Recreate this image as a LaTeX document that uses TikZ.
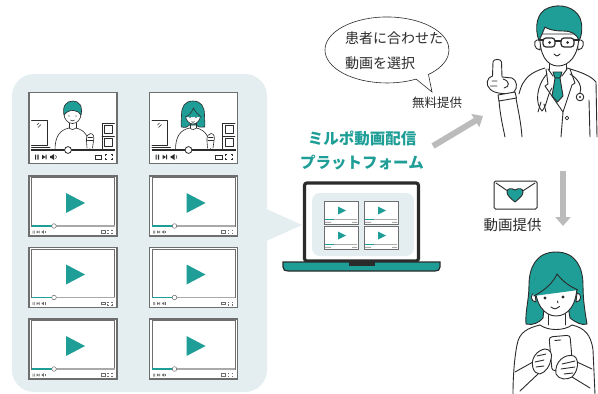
\documentclass[tikz,border=0pt]{standalone}
\usepackage{fontspec}
\newfontfamily\jp{Noto Sans CJK JP}
\usetikzlibrary{arrows.meta}

\definecolor{milteal}{HTML}{1E9E96}
\definecolor{panelbg}{HTML}{E4EEF1}
\definecolor{cardgray}{HTML}{6E6E6E}
\definecolor{bargray}{HTML}{A9A9A9}
\definecolor{arrowgray}{HTML}{BBBBBB}
\definecolor{inkgray}{HTML}{2B2B2B}

\tikzset{
  vcard/.style={draw=cardgray, line width=1.1pt, fill=white, inner sep=0pt},
  ink/.style={draw=inkgray, line width=0.9pt, line join=round, line cap=round},
  thin ink/.style={ink, line width=0.55pt},
  skin/.style={ink, fill=white},
  hair/.style={ink, fill=milteal},
  jplabel/.style={font=\jp, text=inkgray, inner sep=0pt},
  give/.style={draw=arrowgray, line width=6pt, -{Triangle[width=15pt,length=9pt]}},
}

% player buttons, drawn from the origin to the right
\newcommand{\leftctrls}{%
  \fill (0,-2.5) rectangle (1.2,2.5) (2.4,-2.5) rectangle (3.6,2.5);
  \fill (7,-2.3) -- (10.5,0) -- (7,2.3) -- cycle (10.7,-2.3) rectangle (11.7,2.3);
  \fill (15,-1.2) rectangle (16.5,1.2) (16.5,-1.2) -- (19,-3) -- (19,3) -- (16.5,1.2) -- cycle;
  \draw[line width=0.5pt] (20.5,-1.8) .. controls (21.8,-0.6) and (21.8,0.6) .. (20.5,1.8);}
\newcommand{\rightctrls}{%
  \draw[line width=0.7pt] (0,-2) rectangle (6.5,2);
  \draw[line width=0.7pt] (10,-1) |- (11.5,-2.5) (15.5,-2.5) -| (17,-1)
    (17,1) |- (15.5,2.5) (11.5,2.5) -| (10,1);}

\begin{document}
\begin{tikzpicture}[x=1pt, y=-1pt]
\useasboundingbox (0,0) rectangle (598,394);

% ---------- video library ----------
\fill[panelbg, rounded corners=22pt] (12,74) rectangle (267,392);
\fill[panelbg] (262,207) -- (302,225) -- (262,243) -- cycle;

% lessons with a presenter: card and room
\foreach \cx/\nm in {73/lecm, 193.5/lecw} {
  \begin{scope}[shift={(\cx,128)}]
    \node[vcard, minimum width=88pt, minimum height=71pt] (\nm) at (0,0) {};
    \draw[thin ink] (-41.5,-8) -- (-26,-8) -- (-26,17) -- (-41.5,17);
    \draw[thin ink] (-41.5,19.5) -- (-23,19.5);
    \draw[thin ink] (-36,-3) -- (-34,-5) (-35,-0.5) -- (-32,-3.5);
    \draw[thin ink] (29,22) -- (29,-5) -- (41.5,-5) (29,8) -- (41.5,8);
    \draw[thin ink] (31.5,-2.5) rectangle (39.5,5.5) (31.5,10.5) rectangle (39.5,18);
  \end{scope}
}

% presenter (man)
\begin{scope}[shift={(73,128)}]
  \filldraw[skin, line width=0.6pt] (-18,22) .. controls (-18,8) and (-13,2) .. (-4,0)
    .. controls (-1,2) and (1,2) .. (3,0) .. controls (11,2) and (16,7) .. (17,22);
  \draw[thin ink] (-4,-5) -- (-4,0) (3,-5) -- (3,0);
  \filldraw[skin, line width=0.6pt] (-0.5,-14) ellipse (8.5 and 9.5);
  \filldraw[hair, line width=0.6pt] (-9,-13) .. controls (-11,-23) and (-6,-27) .. (0,-27)
    .. controls (6,-27) and (10,-22) .. (8,-13) .. controls (6,-18) and (-4,-20) .. (-9,-13) -- cycle;
  \fill[inkgray] (-4,-12) circle (0.7) (3,-12) circle (0.7);
  \draw[thin ink] (-2.5,-8) .. controls (-0.5,-6.8) .. (1.5,-8);
  \filldraw[skin, line width=0.6pt] (14,20) -- (13.5,13) .. controls (13,8) and (15,5.5) .. (17.5,5.5)
    .. controls (20.5,5.5) and (21.5,9) .. (20.5,13) -- (19.5,20);
  \draw[thin ink] (15,9) -- (19.5,9) (14.5,12) -- (20,12);
\end{scope}

% presenter (woman)
\begin{scope}[shift={(193.5,128)}]
  \filldraw[hair, line width=0.6pt] (-0.5,-27) .. controls (-9,-27) and (-12,-21) .. (-12,-13)
    .. controls (-12,-7) and (-13,-3) .. (-12,-1) .. controls (-8,0) and (-5,-1) .. (-4,-3)
    -- (3,-3) .. controls (4,-1) and (8,0) .. (11,-1) .. controls (12,-3) and (11,-7) .. (11,-13)
    .. controls (11,-21) and (8,-27) .. (-0.5,-27) -- cycle;
  \filldraw[skin, line width=0.6pt] (-18,22) .. controls (-18,8) and (-13,2) .. (-4,0)
    .. controls (-1,2) and (1,2) .. (3,0) .. controls (11,2) and (16,7) .. (17,22);
  \draw[thin ink] (-3.5,-5) -- (-3.5,0) (2.5,-5) -- (2.5,0);
  \filldraw[skin, line width=0.6pt] (-0.5,-13) ellipse (7.5 and 9);
  \fill[milteal] (-8.3,-11) .. controls (-9,-22) and (-4,-25.5) .. (-0.5,-25.5)
    .. controls (5,-25.5) and (8.3,-21) .. (7.8,-11) -- cycle;
  \draw[thin ink] (7.8,-11) .. controls (4,-14) and (1,-17) .. (0,-20)
    .. controls (-2,-15) and (-5,-12) .. (-8.3,-11);
  \fill[inkgray] (-3.5,-10.5) circle (0.7) (2.5,-10.5) circle (0.7);
  \draw[thin ink] (-2,-6.5) .. controls (-0.5,-5.3) .. (1,-6.5);
  \filldraw[skin, line width=0.6pt] (14,20) -- (13.5,13) .. controls (13,8) and (15,5.5) .. (17.5,5.5)
    .. controls (20.5,5.5) and (21.5,9) .. (20.5,13) -- (19.5,20);
  \draw[thin ink] (15,9) -- (19.5,9) (14.5,12) -- (20,12);
\end{scope}

% presenter cards: seek bar and buttons
\foreach \cx in {73, 193.5} {
  \begin{scope}[shift={(\cx,128)}]
    \draw[inkgray, line width=2pt] (-42,22) -- (42,22);
    \filldraw[fill=white, draw=inkgray, line width=0.8pt] (-5,22) circle (3.4);
    \begin{scope}[shift={(-38,29)}, inkgray] \leftctrls \end{scope}
    \begin{scope}[shift={(22,29)}, inkgray] \rightctrls \end{scope}
  \end{scope}
}

% play cards
\foreach \cx/\cy/\nm in {73/206/vid21, 193.5/206/vid22, 73/277.5/vid31,
                         193.5/277.5/vid32, 73/349/vid41, 193.5/349/vid42} {
  \begin{scope}[shift={(\cx,\cy)}]
    \node[vcard, minimum width=88pt, minimum height=60pt] (\nm) at (0,0) {};
    \draw[cardgray, line width=0.4pt] (-41.5,-28.5) rectangle (41.5,20);
    \draw[bargray, line width=1.8pt] (-41.5,20) -- (41.5,20);
    \draw[milteal, line width=1.8pt] (-41.5,20) -- (-19,20);
    \filldraw[fill=white, draw=cardgray, line width=0.5pt] (-19,20) circle (2.3);
    \fill[milteal] (-7,-13) -- (12,-3) -- (-7,7) -- cycle;
    \begin{scope}[shift={(-40.5,26)}, scale=0.6, cardgray] \leftctrls \end{scope}
    \begin{scope}[shift={(28,26)}, scale=0.65, cardgray] \rightctrls \end{scope}
  \end{scope}
}

% ---------- laptop ----------
\node[draw=inkgray, line width=3.2pt, fill=white, rounded corners=2.5pt,
      minimum width=114pt, minimum height=78pt] (screen) at (361.5,222) {};
\fill[panelbg, rounded corners=8pt] (312,193) rectangle (414,256);
\foreach \mx/\my/\nm in {341/212.5/mini1, 381/212.5/mini2, 341/237.5/mini3, 381/237.5/mini4} {
  \begin{scope}[shift={(\mx,\my)}]
    \node[vcard, line width=0.7pt, minimum width=34pt, minimum height=23pt] (\nm) at (0,0) {};
    \draw[bargray, line width=0.8pt] (-16,7) -- (16,7);
    \draw[milteal, line width=0.8pt] (-16,7) -- (-7,7);
    \fill[milteal] (-3,-6) -- (5,-2) -- (-3,2) -- cycle;
    \fill[bargray] (-16,9.3) rectangle (-10,10.3) (11,9.3) rectangle (16,10.3);
  \end{scope}
}
\filldraw[fill=milteal, draw=inkgray, line width=1.2pt] (283,262) -- (440,262) -- (440,267)
  .. controls (440,270) and (438,271) .. (435,271) -- (288,271)
  .. controls (285,271) and (283,270) .. (283,267) -- cycle;
\fill[inkgray] (349,262) rectangle (375,265.5);

\node[jplabel, font=\jp\bfseries\fontsize{15.5}{24}\selectfont, text=milteal, align=center]
  (plat) at (362,151) {ミルポ動画配信\\プラットフォーム};

% ---------- doctor ----------
% coat
\draw[ink] (545,68) .. controls (532,72) and (523,77) .. (519,94);
\draw[ink] (516,98) .. controls (518,110) and (521,122) .. (522,137);
\draw[ink] (499,100) .. controls (500,115) and (503,127) .. (505,137);
\draw[ink] (567,68) .. controls (580,72) and (590,75) .. (596,82) -- (597,137);
\draw[ink] (589,100) -- (590,137);
\draw[ink] (546,69) -- (548,84) -- (545,86) -- (563,112) -- (561,137);
\draw[ink] (570,69) -- (575,83) -- (572,85) -- (563,112);
\filldraw[skin, line width=0.7pt] (567,118) circle (1.8);
% neck, collar and tie
\draw[ink] (549,60) -- (549,70) (566,60) -- (566,70);
\draw[ink] (548,69) -- (553,76) -- (562,76) -- (567,69);
\filldraw[hair] (553,72) -- (562,72) -- (560,78) -- (555,78) -- cycle;
\filldraw[hair] (555,78) -- (560,78) -- (563,96) -- (557.5,102) -- (552,96) -- cycle;
% stethoscope
\draw[ink] (547,74) .. controls (536,86) and (535,104) .. (542,111)
  .. controls (547,106) and (547,95) .. (552,88);
\draw[ink] (541,102) -- (538,112) (544,104) -- (546,112);
\draw[ink] (570,74) .. controls (580,80) and (582,88) .. (580,93);
\filldraw[skin] (580,97) circle (3.8);
\fill[inkgray] (580,97) circle (1.1);
% head
\filldraw[skin] (537,40) .. controls (533,40) and (534,50) .. (540,50) -- (541,40) -- cycle;
\filldraw[skin] (581,40) .. controls (585,40) and (584,50) .. (578,50) -- (577,40) -- cycle;
\filldraw[skin] (540,34) .. controls (539,55) and (547,66) .. (558,66)
  .. controls (569,66) and (579,56) .. (579,34) -- cycle;
\filldraw[hair] (539,41) .. controls (534,27) and (537,12) .. (548,8)
  .. controls (560,3) and (575,7) .. (580,18) .. controls (583,26) and (582,35) .. (579,41)
  .. controls (577,34) and (572,31) .. (563,31) .. controls (554,31) and (547,29) .. (545,27)
  .. controls (543,32) and (541,36) .. (539,41) -- cycle;
\draw[ink, line width=1.2pt, rounded corners=3pt] (543,38) rectangle (555,47) (561,38) rectangle (574,47);
\draw[ink, line width=1.1pt] (555,41) -- (561,41) (540,40) -- (543,40) (574,40) -- (578,40);
\fill[inkgray] (549.5,42.5) circle (1.5) (567.5,42.5) circle (1.5);
\draw[ink] (554,54) .. controls (557,56.5) .. (560,54);
% raised hand
\filldraw[skin] (502,77) -- (501.5,62) .. controls (501.5,58.5) and (493,58.5) .. (493,62)
  -- (492.5,76) .. controls (487,77) and (485,85) .. (490,89)
  .. controls (494,94) and (509,95) .. (514,92) .. controls (518,88) and (517,80) .. (512,78)
  -- cycle;
\draw[ink] (492,81) -- (497,81) (490.5,86) -- (497,86) (503,79) .. controls (510,81) and (510,87) .. (504,88);
\filldraw[skin] (498,95) -- (515,92) -- (516.5,98) -- (499,101) -- cycle;

% ---------- bubble ----------
\filldraw[fill=white, draw=inkgray, line width=0.6pt]
  (416.1,79.1) arc[start angle=62, end angle=408, x radius=62, y radius=33] -- (432,92) -- cycle;
\node[jplabel, font=\jp\fontsize{14}{25}\selectfont, align=left, anchor=west]
  (pick) at (345,50.5) {患者に合わせた\\動画を選択};

% ---------- hand-over arrows ----------
\node[jplabel, font=\jp\fontsize{12.5}{15}\selectfont] (free) at (437,103) {無料提供};
\coordinate (fromplat) at (433,146);
\coordinate (todoc) at (483,116);
\draw[give] (fromplat) -- (todoc);

\node[draw=inkgray, line width=1pt, fill=white, rounded corners=1.5pt,
      minimum width=43pt, minimum height=28pt] (mail) at (515.5,195) {};
\draw[ink] (496,183) -- (515,196) -- (535,183);
\filldraw[hair] (515,202) .. controls (510,198) and (507,195) .. (507,192)
  .. controls (507,188.5) and (511,187.5) .. (515,190) .. controls (519,187.5) and (523,188.5) .. (523,192)
  .. controls (523,195) and (520,198) .. (515,202) -- cycle;
\node[jplabel, font=\jp\fontsize{14.5}{17}\selectfont] (send) at (512.5,225.5) {動画提供};
\coordinate (fromdoc) at (563,171);
\coordinate (topat) at (563,226);
\draw[give] (fromdoc) -- (topat);

% ---------- patient ----------
\draw[ink] (540,325) .. controls (528,328) and (519,332) .. (517,345)
  .. controls (514,360) and (513,380) .. (513,394);
\draw[ink] (572,325) .. controls (585,328) and (591,335) .. (593,350) -- (595,394);
\draw[ink] (540,325) .. controls (548,331) and (564,331) .. (572,325);
\draw[ink] (548,312) -- (548,325) (565,312) -- (565,325);
\filldraw[hair] (556,252) .. controls (536,252) and (529,268) .. (529,285)
  .. controls (529,300) and (525,312) .. (526,324) .. controls (533,326) and (540,322) .. (543,318)
  -- (545,300) -- (567,300) -- (570,318) .. controls (575,322) and (582,326) .. (587,324)
  .. controls (585,312) and (583,300) .. (583,285) .. controls (583,268) and (576,252) .. (556,252) -- cycle;
\filldraw[skin] (535,293) .. controls (530,293) and (530,302) .. (536,302) -- cycle;
\filldraw[skin] (577,293) .. controls (582,293) and (582,302) .. (576,302) -- cycle;
\filldraw[skin] (535,280) .. controls (534,305) and (545,316) .. (556,316)
  .. controls (568,316) and (578,305) .. (577,280) .. controls (575,268) and (537,268) .. (535,280) -- cycle;
% fringe over the forehead
\fill[milteal] (533.5,296) .. controls (531,276) and (541,263) .. (556,262)
  .. controls (571,262) and (581,272) .. (578.5,290) -- cycle;
\draw[ink] (578,290) .. controls (571,287) and (563,282) .. (557,274)
  .. controls (553,283) and (545,290) .. (534,296);
\fill[inkgray] (545,298) circle (1.7) (563,297) circle (1.7);
\draw[ink] (557.5,301) -- (558,303);
\draw[ink] (551,307) .. controls (555,309.5) .. (559.5,306.5);
% phone and hands
\draw[ink] (515,372) -- (533,362) (520,391) -- (538,374);
\draw[ink] (592,369) -- (577,362) (590,388) -- (572,377);
\begin{scope}[shift={(561,353)}, rotate=5]
  \filldraw[skin, rounded corners=3pt] (-10.5,-17) rectangle (10.5,17);
  \draw[ink] (-5,-13) -- (1,-13);
\end{scope}
\filldraw[skin] (533,368) .. controls (530,359) and (537,350) .. (545,349)
  .. controls (550,349) and (553,354) .. (551,359) .. controls (550,366) and (546,372) .. (540,374)
  .. controls (537,374) and (534,372) .. (533,368) -- cycle;
\draw[ink] (537,356) -- (546,354) (535,362) -- (544,360) (536,367) -- (544,366);
\filldraw[skin] (556,374) .. controls (554,362) and (565,353) .. (574,356)
  .. controls (579,359) and (579,370) .. (572,377) .. controls (567,380) and (559,380) .. (556,374) -- cycle;
\draw[ink] (562,364) -- (575,361) (561,369) -- (575,367) (564,374) -- (573,373);
\end{tikzpicture}
\end{document}
